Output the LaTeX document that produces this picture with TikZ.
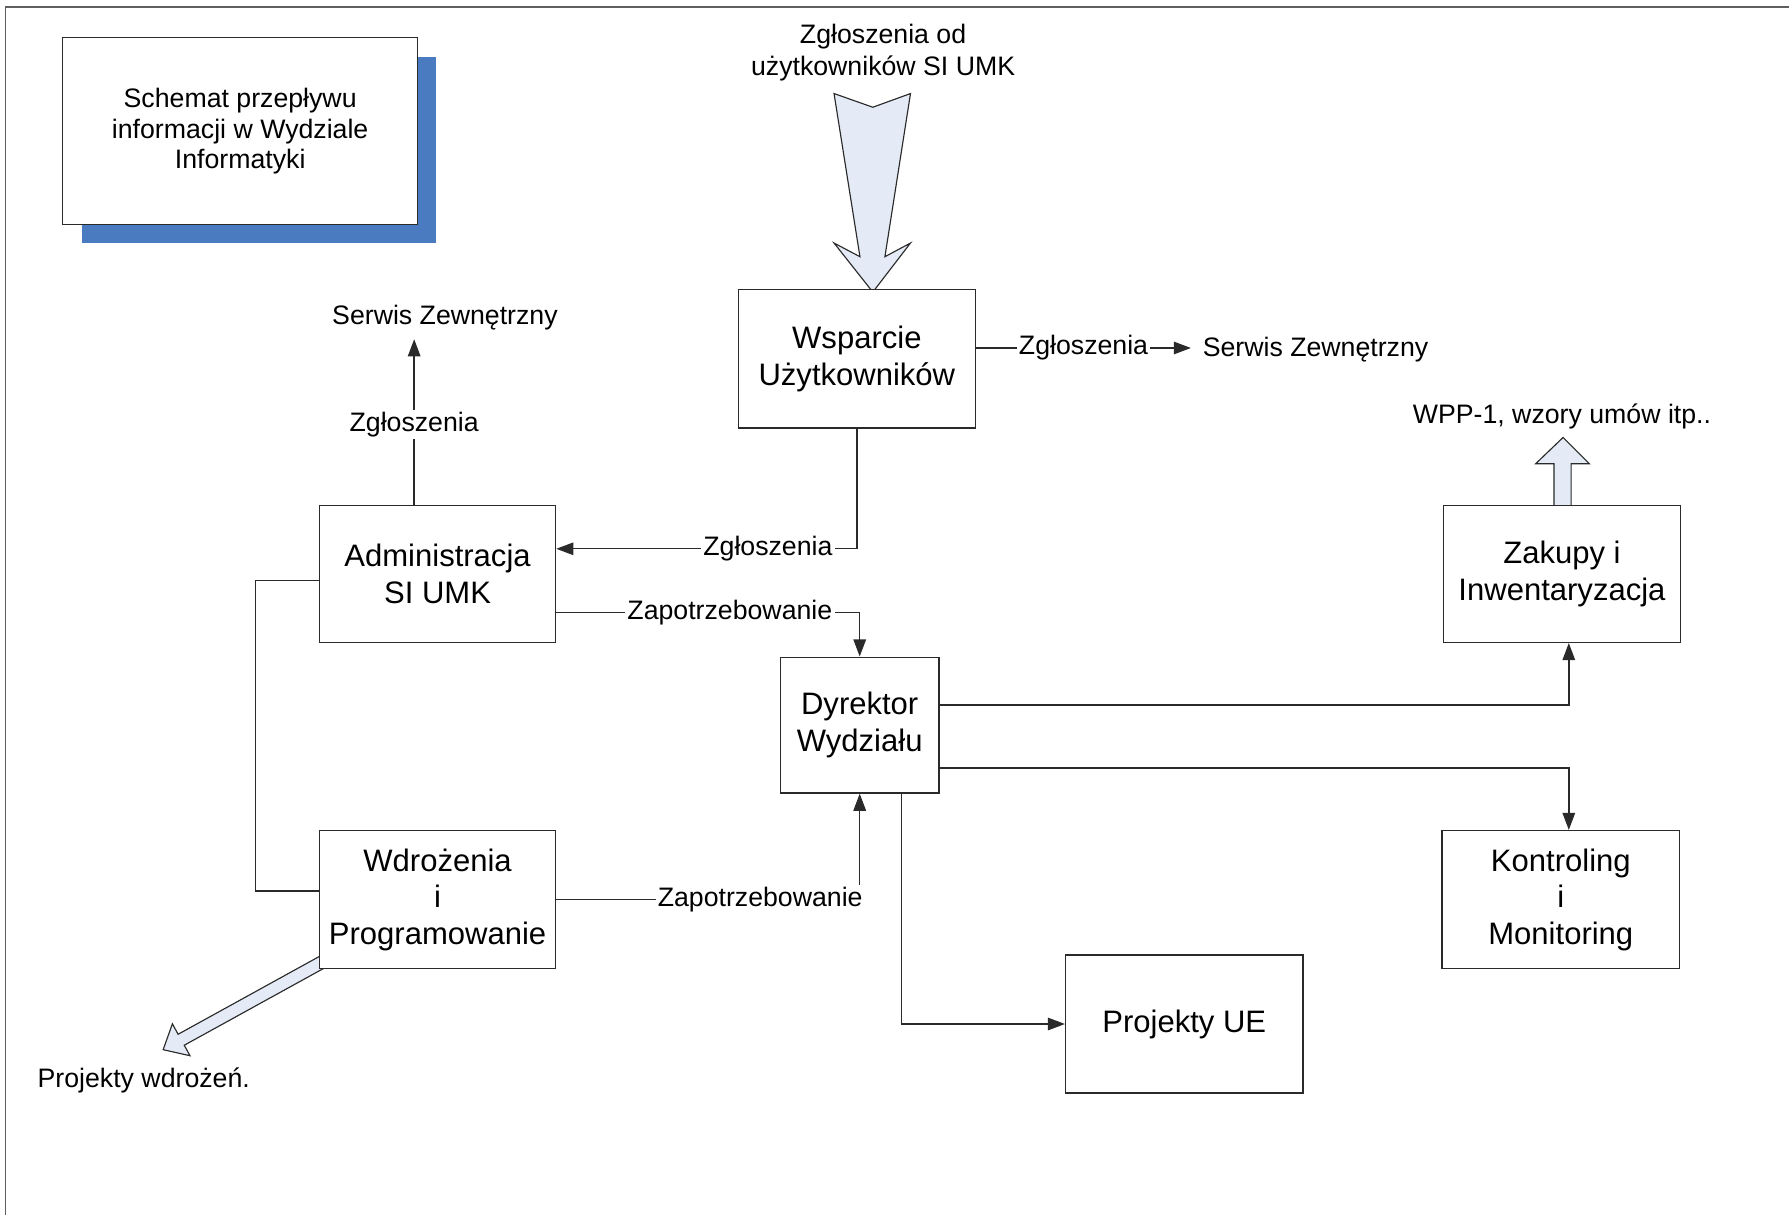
\documentclass[tikz,border=0pt]{standalone}
\usepackage{fontspec}
\setmainfont{Liberation Sans}
\usetikzlibrary{arrows.meta,calc}
\definecolor{shadowblue}{HTML}{4A7ABF}
\definecolor{arrowfill}{HTML}{E4EBF6}
\definecolor{linegray}{HTML}{2A2A2A}
\definecolor{framegray}{HTML}{606060}
\tikzset{
  procbox/.style={draw=linegray, fill=white, line width=0.6pt, align=center,
    font=\fontsize{13.6}{16}\selectfont, inner sep=0pt},
  conn/.style={draw=linegray, line width=0.6pt},
  arr/.style={conn, -{Triangle[length=7.5pt,width=5.5pt]}},
  lbl/.style={fill=white, inner sep=1pt, font=\fontsize{11.7}{13.5}\selectfont},
  extxt/.style={inner sep=5pt, align=center, font=\fontsize{11.7}{13.5}\selectfont},
  blockarr/.style={draw=linegray, fill=arrowfill, line width=0.5pt, line join=miter},
}
\begin{document}
\begin{tikzpicture}[x=0.5pt, y=-0.5pt]
\useasboundingbox (0,0) rectangle (1568,1065);
% frame (top and left edges only)
\draw[framegray, line width=0.6pt] (1568,6) -- (5,6) -- (5,1065);

% title with shadow
\fill[shadowblue] (72,50) rectangle (382,213);
\node[draw=linegray, fill=white, line width=0.6pt, minimum width=155.5pt, minimum height=82pt,
  align=center, inner sep=0pt, font=\fontsize{11.7}{13.5}\selectfont] (title) at (210.5,115)
  {Schemat przepływu\\informacji w Wydziale\\Informatyki};

% external texts
\node[extxt, font=\fontsize{11.7}{14}\selectfont] (zgl) at (774,46) {Zgłoszenia od\\użytkowników SI UMK};
\node[extxt, inner ysep=4pt] (serwL) at (390,278) {Serwis Zewnętrzny};
\node[extxt] (serwR) at (1153,306) {Serwis Zewnętrzny};
\node[extxt] (wpp) at (1369,365) {WPP-1, wzory umów itp..};
\node[extxt] (pw) at (126,947) {Projekty wdrożeń.};

% block arrow (incoming requests)
\draw[blockarr] (731,82) -- (765,94) -- (798,82) -- (775.6,225) -- (798,213) -- (765,256)
  -- (731,213) -- (753.7,225) -- cycle;

% block arrow from Wdrozenia to Projekty wdrozen
\draw[blockarr] (287.3,834.2) -- (156.1,906.5) -- (151.1,897.3) -- (143,920) -- (166.5,925.3)
  -- (161.5,916.1) -- (292.7,843.8) -- cycle;

% process boxes
\node[procbox, minimum width=104pt, minimum height=60.5pt] (ws) at (751,314.5) {Wsparcie\\Użytkowników};
\node[procbox, minimum width=103.5pt, minimum height=60pt] (adm) at (383.5,503) {Administracja\\SI UMK};
\node[procbox, minimum width=69.5pt, minimum height=59.5pt] (dyr) at (753.5,635.5) {Dyrektor\\Wydziału};
\node[procbox, minimum width=104pt, minimum height=60pt] (zak) at (1369,503) {Zakupy i\\Inwentaryzacja};
\node[procbox, minimum width=103.5pt, minimum height=60.5pt] (wdr) at (383.5,788.5) {Wdrożenia\\i\\Programowanie};
\node[procbox, minimum width=104pt, minimum height=60.5pt] (kon) at (1368,788.5) {Kontroling\\i\\Monitoring};
\node[procbox, minimum width=104pt, minimum height=60.5pt] (proj) at (1038,897.5) {Projekty UE};

% block arrow up from Zakupy
\draw[blockarr] ($(zak.north)+(-7,0)$) -- ++(0,-36) -- ++(-16,0) -- ++(24,-23) -- ++(23,23)
  -- ++(-16,0) -- ++(0,36);

% connectors
\draw[arr] (ws.east |- 0,305) -- node[lbl]{Zgłoszenia} (serwR.west |- 0,305);
\draw[arr] (ws.south) |- node[lbl,pos=0.648]{Zgłoszenia} (adm.east |- 0,481);
\draw[arr] (adm.north -| 363,0) -- node[lbl,yshift=-1pt]{Zgłoszenia} (serwL.south -| 363,0);
\draw[arr] (adm.east |- 0,537) -| node[lbl,pos=0.286]{Zapotrzebowanie} (dyr.north);
\draw[arr] (dyr.east |- 0,618) -| (zak.south -| 1375,0);
\draw[arr] (dyr.east |- 0,673) -| (kon.north -| 1375,0);
\draw[arr] (dyr.south -| 790,0) |- (proj.west);
\draw[arr] (wdr.east) -| node[lbl,pos=0.336]{Zapotrzebowanie} (dyr.south);
\draw[conn] (adm.west |- 0,509) -- (224,509) |- (wdr.west |- 0,781);
\end{tikzpicture}
\end{document}
